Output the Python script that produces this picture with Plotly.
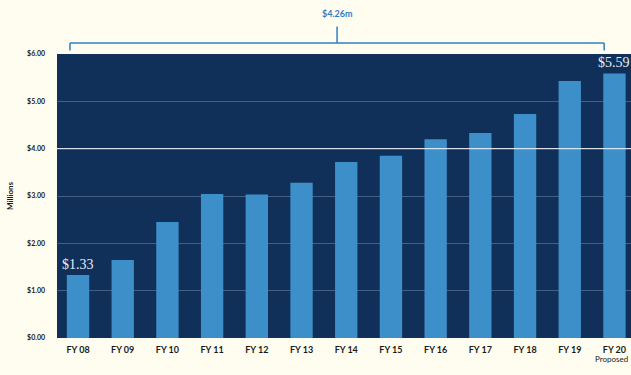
import plotly.graph_objects as go

categories = ["FY 08", "FY 09", "FY 10", "FY 11", "FY 12", "FY 13", "FY 14",
              "FY 15", "FY 16", "FY 17", "FY 18", "FY 19", "FY 20"]
values = [1.33, 1.65, 2.45, 3.04, 3.03, 3.28, 3.72, 3.85, 4.20, 4.33, 4.73, 5.43, 5.59]
y_ticks = [0, 1, 2, 3, 4, 5, 6]
y_tick_labels = ["$0.00", "$1.00", "$2.00", "$3.00", "$4.00", "$5.00", "$6.00"]

idx = list(range(len(categories)))

fig = go.Figure()
fig.add_trace(go.Bar(
    x=idx, y=values, width=0.5,
    marker=dict(color="#3d8fca", line=dict(width=0)),
    hoverinfo="skip",
))

bg = "#fffdf0"
bracket_color = "#2f7fc4"
fig.update_layout(
    width=631, height=375,
    margin=dict(l=57, r=0, t=54, b=37),
    paper_bgcolor=bg,
    plot_bgcolor="#10305a",
    showlegend=False,
    bargap=0.5,
    xaxis=dict(
        range=[-0.47, 12.37],
        tickmode="array", tickvals=idx, ticktext=categories,
        tickfont=dict(family="Lato", size=9, color="#1a1a1a", weight="bold"),
        showgrid=False, zeroline=False, showline=False,
        ticks="", ticklabelstandoff=5,
    ),
    yaxis=dict(
        range=[0, 6],
        tickmode="array", tickvals=y_ticks, ticktext=y_tick_labels,
        tickfont=dict(family="Lato", size=7, color="#1a1a1a", weight="bold"),
        showgrid=True, gridcolor="rgba(200,220,240,0.28)", gridwidth=1,
        zeroline=False, showline=False, ticks="", ticklabelstandoff=11,
        title=dict(text="Millions", font=dict(family="Lato", size=8, color="#1a1a1a", weight="bold"),
                   standoff=12),
    ),
)

# brighter $4.00 line
fig.add_shape(type="line", xref="paper", yref="y", x0=0, x1=1, y0=4, y1=4,
              line=dict(color="rgba(240,245,250,0.85)", width=1.2))

# value labels on first and last bars
for i in (0, len(values) - 1):
    fig.add_annotation(x=idx[i], y=values[i], text=f"${values[i]:.2f}", showarrow=False,
                       yanchor="bottom", yshift=1,
                       font=dict(family="Liberation Serif", size=14, color="#e4edf4"))

# bracket above the chart
x_left, x_right = -0.18, 11.77
y_top, y_bot = 1.0386, 1.012
x_mid = (x_left + x_right) / 2
for (xa, ya, xb, yb) in [(x_left, y_top, x_right, y_top),
                         (x_left, y_top, x_left, y_bot),
                         (x_right, y_top, x_right, y_bot),
                         (x_mid, y_top, x_mid, 1.097)]:
    fig.add_shape(type="line", xref="x", yref="paper", x0=xa, x1=xb, y0=ya, y1=yb,
                  line=dict(color=bracket_color, width=1.5))

diff = values[-1] - values[0]
fig.add_annotation(x=x_mid, y=1.142, xref="x", yref="paper", text=f"${diff:.2f}m",
                   showarrow=False, yanchor="middle",
                   font=dict(family="Lato", size=9, color=bracket_color, weight="bold"))

fig.add_annotation(x=1, y=-0.098, xref="paper", yref="paper", text="Proposed",
                   showarrow=False, xanchor="right", xshift=-1,
                   font=dict(family="Lato", size=8, color="#1a1a1a"))

fig.write_html("out.html")
